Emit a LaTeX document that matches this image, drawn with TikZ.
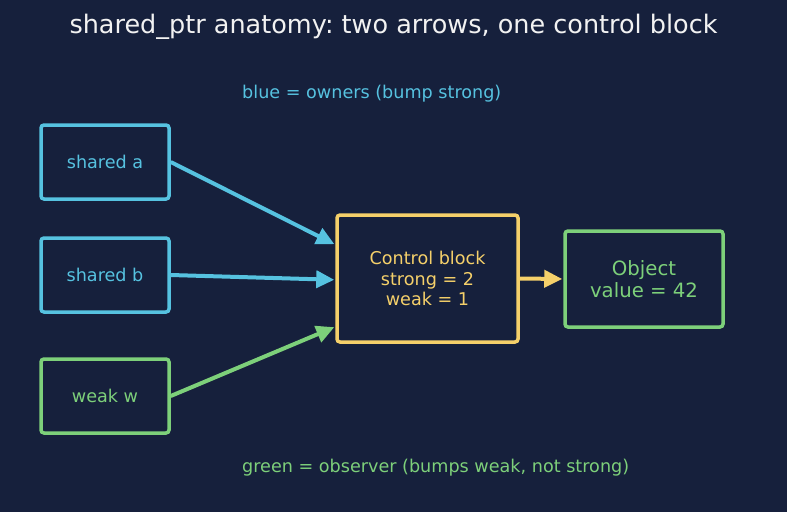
\documentclass[tikz,border=0pt]{standalone}
\usepackage{fontspec}
\setmainfont{DejaVu Sans}
\usetikzlibrary{arrows.meta,calc}
\frenchspacing
\definecolor{bg}{HTML}{16203C}
\definecolor{cblue}{HTML}{56C2E0}
\definecolor{cyellow}{HTML}{F5D06A}
\definecolor{cgreen}{HTML}{7DD07A}
\definecolor{ctitle}{HTML}{F2F2F2}
\tikzset{
  box/.style={draw, line width=3.5pt, rounded corners=3pt, inner sep=0pt, align=center},
  lbl/.style={font=\fontsize{17.6}{20.5}\selectfont},
  conn/.style={line width=4pt, -{Triangle[length=18pt,width=17pt]}, shorten >=1pt},
}
\begin{document}
\begin{tikzpicture}[x=1pt,y=-1pt]
\fill[bg] (0,0) rectangle (787,512);
\useasboundingbox (0,0) rectangle (787,512);
\node[text=ctitle, font=\fontsize{25.5}{28}\selectfont] (title) at (393.5,27) {shared\_ptr anatomy: two arrows, one control block};
\node[text=cblue, lbl, anchor=west, inner sep=0pt] (legb) at (242,93.5) {blue = owners (bump strong)};
\node[text=cgreen, lbl, anchor=west, inner sep=0pt] (legg) at (242,467.5) {green = observer (bumps weak, not strong)};
\node[box, draw=cblue, text=cblue, lbl, minimum width=128pt, minimum height=74pt] (a) at (105,162) {shared a};
\node[box, draw=cblue, text=cblue, lbl, minimum width=128pt, minimum height=74pt] (b) at (105,275) {shared b};
\node[box, draw=cgreen, text=cgreen, lbl, minimum width=128pt, minimum height=74pt] (w) at (105,396) {weak w};
\node[box, draw=cyellow, text=cyellow, lbl, minimum width=181pt, minimum height=127pt] (cb) at (427.5,278.5) {Control block\\strong = 2\\weak = 1};
\node[box, draw=cgreen, text=cgreen, font=\fontsize{19.7}{22}\selectfont, minimum width=158pt, minimum height=96pt] (obj) at (644,279) {Object\\value = 42};
\draw[conn, cblue] (a.east) -- ($(cb.north west)!0.24!(cb.south west)$);
\draw[conn, cblue] (b.east) -- ($(cb.north west)!0.51!(cb.south west)$);
\draw[conn, cgreen] (w.east) -- ($(cb.north west)!0.87!(cb.south west)$);
\draw[conn, cyellow] (cb.east) -- (obj.west);
\end{tikzpicture}
\end{document}
